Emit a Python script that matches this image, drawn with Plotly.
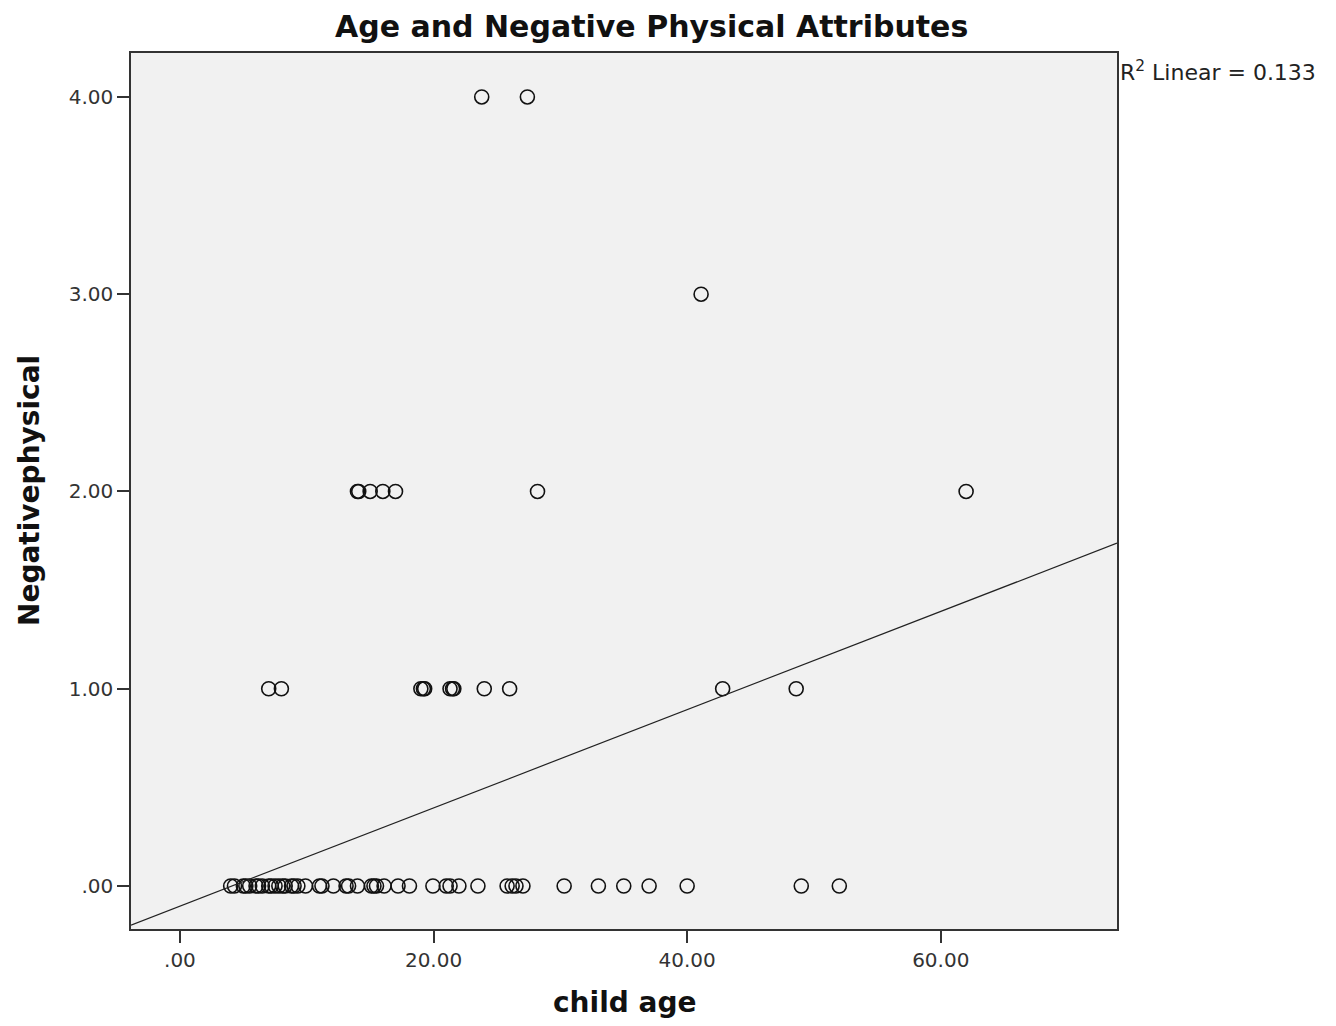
import plotly.graph_objects as go

# ---- data ----
age_y0 = [4.0, 4.3, 5.0, 5.2, 5.5, 6.0, 6.2, 6.5, 7.0, 7.2, 7.5, 7.8, 8.1, 8.3, 8.8,
          9.0, 9.3, 9.9, 11.0, 11.2, 12.1, 13.1, 13.3, 14.0, 15.1, 15.3, 15.5, 16.1,
          17.2, 18.1, 19.95, 21.0, 21.3, 22.0, 23.5, 25.8, 26.2, 26.5, 27.05, 30.3,
          33.0, 35.0, 37.0, 40.0, 49.0, 52.0]
age_y1 = [7.0, 8.0, 19.0, 19.2, 19.3, 21.3, 21.5, 21.6, 24.0, 26.0, 42.8, 48.6]
age_y2 = [14.0, 14.1, 15.0, 16.0, 17.0, 28.2, 62.0]
age_y3 = [41.1]
age_y4 = [23.8, 27.4]

fit_slope = 0.0249
fit_intercept = -0.102
r2_text = "R<sup>2</sup> Linear = 0.133"

x_range = [-3.86, 73.9]
y_range = [-0.218, 4.223]
x_ticks = [0, 20, 40, 60]
x_tick_labels = [".00", "20.00", "40.00", "60.00"]
y_ticks = [0, 1, 2, 3, 4]
y_tick_labels = [".00", "1.00", "2.00", "3.00", "4.00"]

xs, ys = [], []
for val, grp in [(0, age_y0), (1, age_y1), (2, age_y2), (3, age_y3), (4, age_y4)]:
    xs += grp
    ys += [val] * len(grp)

font = "DejaVu Sans"
fig = go.Figure()
fig.add_trace(go.Scatter(
    x=xs, y=ys, mode="markers",
    marker=dict(symbol="circle-open", size=14, color="#111111", line=dict(width=1.6)),
    showlegend=False, hoverinfo="x+y"))
fig.add_trace(go.Scatter(
    x=x_range, y=[fit_intercept + fit_slope * v for v in x_range], mode="lines",
    line=dict(color="#222222", width=1.2), showlegend=False, hoverinfo="skip"))

axis_common = dict(showgrid=False, zeroline=False, showline=True, linecolor="#333333",
                   linewidth=1.5, mirror=True, ticks="outside", ticklen=12,
                   tickcolor="#333333", tickwidth=1.5,
                   tickfont=dict(family=font, size=20, color="#333333"))

fig.update_layout(
    width=1320, height=1010,
    margin=dict(l=123, r=211, t=45, b=89),
    paper_bgcolor="white", plot_bgcolor="#f1f1f1",
    xaxis=dict(range=x_range, tickvals=x_ticks, ticktext=x_tick_labels, **axis_common),
    yaxis=dict(range=y_range, tickvals=y_ticks, ticktext=y_tick_labels, **axis_common),
    annotations=[
        dict(text="<b>Age and Negative Physical Attributes</b>", xref="paper", yref="paper",
             x=0.528, y=1, yshift=27, xanchor="center", yanchor="middle", showarrow=False,
             font=dict(family=font, size=30, color="#111111")),
        dict(text="<b>child age</b>", xref="paper", yref="paper",
             x=0.5, y=0, yshift=-73, xanchor="center", yanchor="middle", showarrow=False,
             font=dict(family=font, size=28, color="#111111")),
        dict(text="<b>Negativephysical</b>", xref="paper", yref="paper", textangle=-90,
             x=0, xshift=-102, y=0.5, xanchor="center", yanchor="middle", showarrow=False,
             font=dict(family=font, size=28, color="#111111")),
        dict(text=r2_text, xref="paper", yref="paper", x=1, xshift=1, y=1, yshift=-18,
             xanchor="left", yanchor="middle", showarrow=False,
             font=dict(family=font, size=22, color="#222222")),
    ],
)

fig.write_html("out.html")
